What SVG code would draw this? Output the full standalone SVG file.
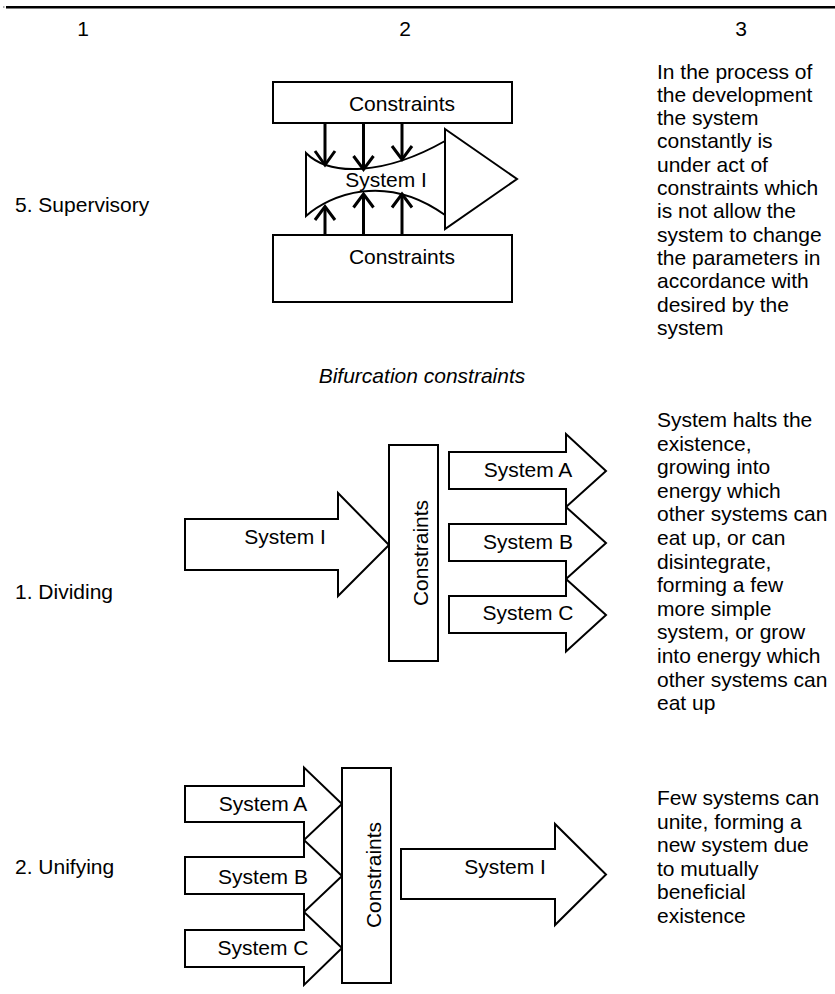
<svg xmlns="http://www.w3.org/2000/svg" width="835" height="994" viewBox="0 0 835 994">
<style>
text{font-family:"Liberation Sans",Arial,sans-serif;font-size:21px;fill:#000}
.m{text-anchor:middle}
.it{font-style:italic}
.shape{fill:#fff;stroke:#000;stroke-width:2;stroke-linejoin:miter}
.arr{fill:none;stroke:#000;stroke-width:3;stroke-linecap:butt;stroke-linejoin:miter}
</style>
<rect x="0" y="0" width="835" height="994" fill="#fff"/>
<rect x="3" y="6.5" width="1.5" height="1" fill="#555"/>
<line x1="6" y1="7.3" x2="835" y2="7.3" stroke="#000" stroke-width="2.5"/>
<g id="headers">
<text class="m" x="83" y="36">1</text>
<text class="m" x="405" y="36">2</text>
<text class="m" x="741" y="36">3</text>
</g>
<g id="row-labels">
<text x="15" y="212">5. Supervisory</text>
<text x="15" y="599">1. Dividing</text>
<text x="15" y="874">2. Unifying</text>
<text class="m it" x="422" y="383">Bifurcation constraints</text>
</g>
<!-- Supervisory diagram -->
<g id="sup-constraints-top">
<rect class="shape" x="273" y="82" width="239" height="41"/>
<text class="m" x="402" y="111">Constraints</text>
</g>
<g id="sup-constraints-bottom">
<rect class="shape" x="273" y="235" width="239" height="67"/>
<text class="m" x="402" y="264">Constraints</text>
</g>
<g id="sup-system-i">
<path class="shape" d="M306,153 C330,177 385,175 445,141 L445,215 C385,172 330,195 306,216 Z"/>
<polygon class="shape" points="445,129 517,179 445,229"/>
<text class="m" x="386" y="186.5">System I</text>
</g>
<g id="connectors">
<line class="arr" x1="325" y1="123" x2="325" y2="164"/>
<polyline class="arr" points="315,151 325,165 335,151"/>
<line class="arr" x1="363.5" y1="123" x2="363.5" y2="168"/>
<polyline class="arr" points="353.5,156 363.5,169.5 373.5,156"/>
<line class="arr" x1="402" y1="123" x2="402" y2="158"/>
<polyline class="arr" points="392,146 402,159.5 412,146"/>
<line class="arr" x1="325" y1="235" x2="325" y2="208"/>
<polyline class="arr" points="315,220 325,206.5 335,220"/>
<line class="arr" x1="363.5" y1="235" x2="363.5" y2="195"/>
<polyline class="arr" points="353.5,207.5 363.5,194 373.5,207.5"/>
<line class="arr" x1="402" y1="235" x2="402" y2="195"/>
<polyline class="arr" points="392,207.5 402,194 412,207.5"/>
</g>
<!-- Dividing diagram -->
<g id="div-system-i">
<path class="shape" d="M185,519 H338 V493 L389,545 L338,596 V570 H185 Z"/>
<text class="m" x="285" y="543.5">System I</text>
</g>
<g id="div-constraints">
<rect class="shape" x="389" y="445" width="49" height="216"/>
<text class="m" transform="translate(428,553) rotate(-90)">Constraints</text>
</g>
<g id="div-system-a">
<path class="shape" d="M449,452 H566 V434 L606,471 L566,507 V489 H449 Z"/>
<text class="m" x="528" y="477">System A</text>
</g>
<g id="div-system-b">
<path class="shape" d="M449,524 H566 V507 L606,543 L566,579 V561 H449 Z"/>
<text class="m" x="528" y="548.5">System B</text>
</g>
<g id="div-system-c">
<path class="shape" d="M449,596 H566 V579 L606,615 L566,651.5 V633 H449 Z"/>
<text class="m" x="528" y="620">System C</text>
</g>
<!-- Unifying diagram -->
<g id="uni-system-a">
<path class="shape" d="M185,786 H304 V767.5 L342,804 L304,840 V822 H185 Z"/>
<text class="m" x="263" y="811">System A</text>
</g>
<g id="uni-system-b">
<path class="shape" d="M185,857 H304 V840 L342,876 L304,912 V894 H185 Z"/>
<text class="m" x="263" y="883.5">System B</text>
</g>
<g id="uni-system-c">
<path class="shape" d="M185,930 H304 V912 L342,948 L304,985 V967 H185 Z"/>
<text class="m" x="263" y="955">System C</text>
</g>
<g id="uni-constraints">
<rect class="shape" x="342" y="768" width="49" height="215"/>
<text class="m" transform="translate(380.5,875) rotate(-90)">Constraints</text>
</g>
<g id="uni-system-i">
<path class="shape" d="M401,849 H555 V824 L606,874.5 L555,925 V899 H401 Z"/>
<text class="m" x="505" y="874">System I</text>
</g>
<!-- Column 3 descriptions -->
<g id="desc-supervisory">
<text x="657" y="78.5">In the process of</text>
<text x="657" y="101.8">the development</text>
<text x="657" y="125.1">the system</text>
<text x="657" y="148.4">constantly is</text>
<text x="657" y="171.7">under act of</text>
<text x="657" y="195">constraints which</text>
<text x="657" y="218.3">is not allow the</text>
<text x="657" y="241.6">system to change</text>
<text x="657" y="264.9">the parameters in</text>
<text x="657" y="288.2">accordance with</text>
<text x="657" y="311.5">desired by the</text>
<text x="657" y="334.8">system</text>
</g>
<g id="desc-dividing">
<text x="657" y="427">System halts the</text>
<text x="657" y="450.6">existence,</text>
<text x="657" y="474.2">growing into</text>
<text x="657" y="497.8">energy which</text>
<text x="657" y="521.4">other systems can</text>
<text x="657" y="545">eat up, or can</text>
<text x="657" y="568.6">disintegrate,</text>
<text x="657" y="592.2">forming a few</text>
<text x="657" y="615.8">more simple</text>
<text x="657" y="639.4">system, or grow</text>
<text x="657" y="663">into energy which</text>
<text x="657" y="686.6">other systems can</text>
<text x="657" y="710.2">eat up</text>
</g>
<g id="desc-unifying">
<text x="657" y="805">Few systems can</text>
<text x="657" y="828.5">unite, forming a</text>
<text x="657" y="852">new system due</text>
<text x="657" y="875.5">to mutually</text>
<text x="657" y="899">beneficial</text>
<text x="657" y="922.5">existence</text>
</g>
</svg>
